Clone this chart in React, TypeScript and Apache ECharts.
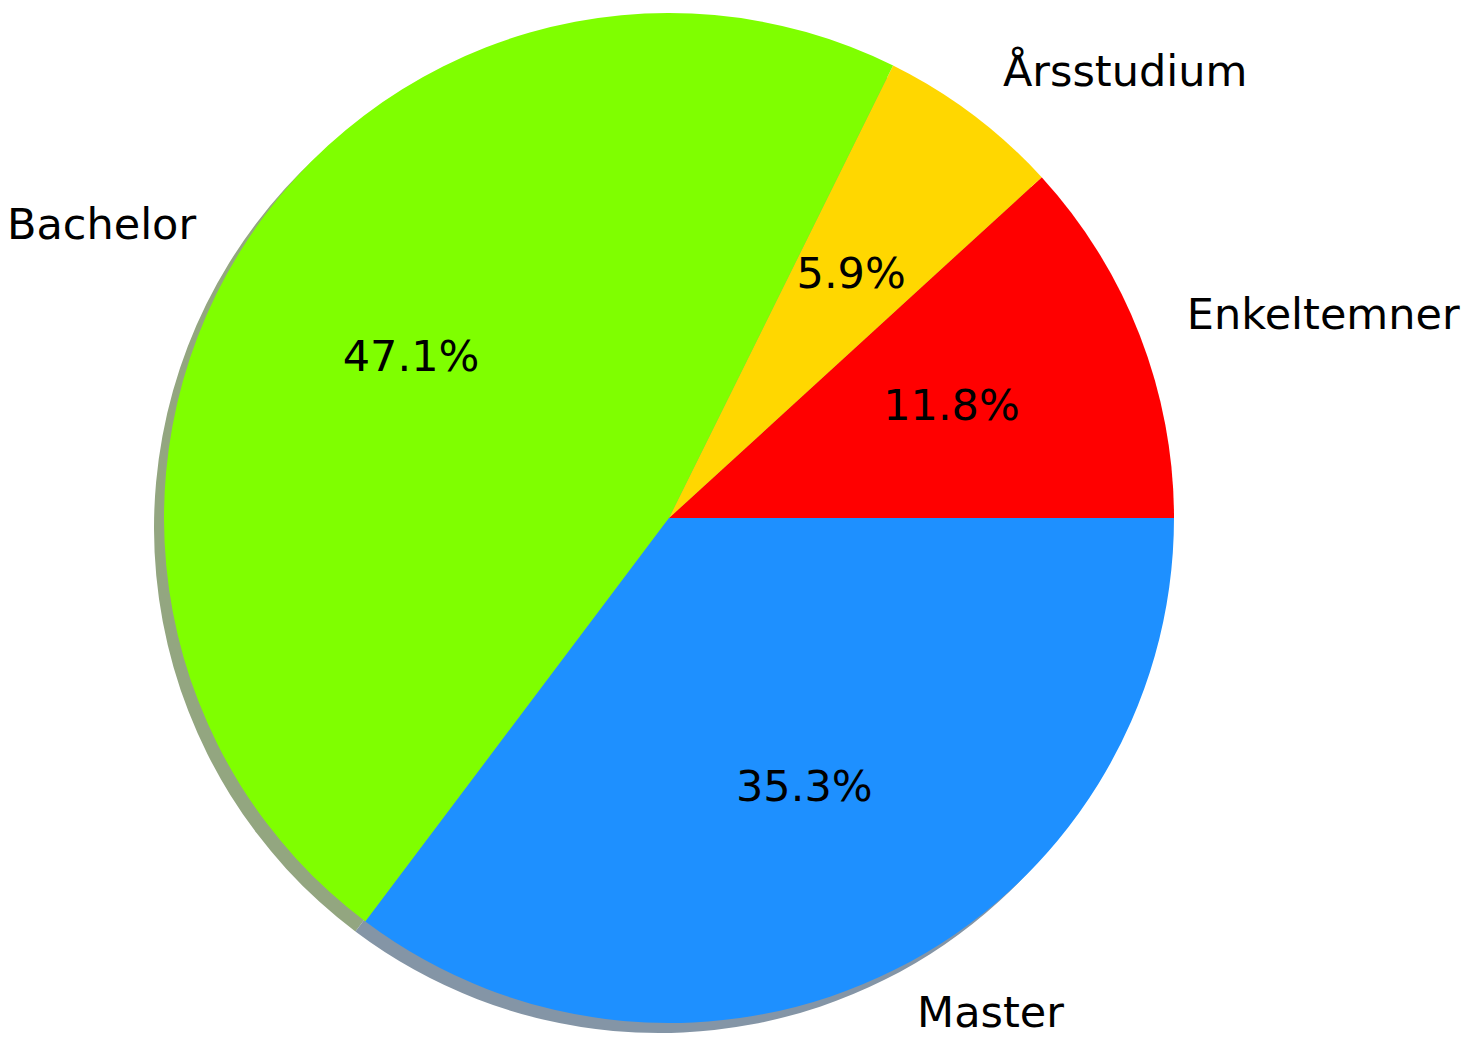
import React, { useEffect, useRef } from "react";
import * as echarts from "echarts";

const categories = ["Enkeltemner", "Årsstudium", "Bachelor", "Master"];
const values = [11.8, 5.9, 47.1, 35.3];
const colors = ["#FF0000", "#FFD700", "#7FFF00", "#1E90FF"];
// matplotlib shadow: 0.3 * face colour at alpha 0.5 over white
const shadowColors = ["#a68080", "#a6a080", "#93a680", "#8495a6"];

const CX = 669;
const CY = 518;
const R = 505;
const SHADOW_DX = -10;
const SHADOW_DY = 10;
const FONT = 43;
const TEXT_DY = -3;

export default function App() {
  const ref = useRef<HTMLDivElement>(null);
  useEffect(() => {
    if (!ref.current) return;
    const chart = echarts.init(ref.current, undefined, { renderer: "svg" });
    const total = values.reduce((a, b) => a + b, 0);
    const graphics: any[] = [];
    let start = 0;
    values.forEach((v, i) => {
      const span = (v / total) * 360;
      const mid = ((start + span / 2) * Math.PI) / 180;
      start += span;
      const c = Math.cos(mid);
      const s = Math.sin(mid);
      graphics.push({
        type: "text",
        x: CX + 1.1 * R * c,
        y: CY - 1.1 * R * s + TEXT_DY,
        z: 100,
        style: {
          text: categories[i],
          fontSize: FONT,
          fontFamily: "DejaVu Sans",
          fill: "#000",
          align: c > 0 ? "left" : "right",
          textAlign: c > 0 ? "left" : "right",
          verticalAlign: "middle",
          textVerticalAlign: "middle",
        },
      });
      graphics.push({
        type: "text",
        x: CX + 0.6 * R * c,
        y: CY - 0.6 * R * s + TEXT_DY,
        z: 100,
        style: {
          text: v.toFixed(1) + "%",
          fontSize: FONT,
          fontFamily: "DejaVu Sans",
          fill: "#000",
          align: "center",
          textAlign: "center",
          verticalAlign: "middle",
          textVerticalAlign: "middle",
        },
      });
    });
    const base = {
      type: "pie",
      startAngle: 0,
      clockwise: false,
      radius: [0, R],
      label: { show: false },
      labelLine: { show: false },
      emphasis: { disabled: true },
      silent: true,
      avoidLabelOverlap: false,
      minAngle: 0,
    };
    chart.setOption({
      animation: false,
      backgroundColor: "#ffffff",
      series: [
        {
          ...base,
          z: 1,
          center: [CX + SHADOW_DX, CY + SHADOW_DY],
          data: values.map((v, i) => ({
            name: categories[i],
            value: v,
            itemStyle: { color: shadowColors[i], borderWidth: 0 },
          })),
        },
        {
          ...base,
          z: 2,
          center: [CX, CY],
          data: values.map((v, i) => ({
            name: categories[i],
            value: v,
            itemStyle: { color: colors[i], borderWidth: 0 },
          })),
        },
      ],
      graphic: graphics,
    });
    return () => chart.dispose();
  }, []);
  return (
    <div
      ref={ref}
      style={{ position: "fixed", left: 0, top: 0, width: 1472, height: 1041 }}
    />
  );
}
